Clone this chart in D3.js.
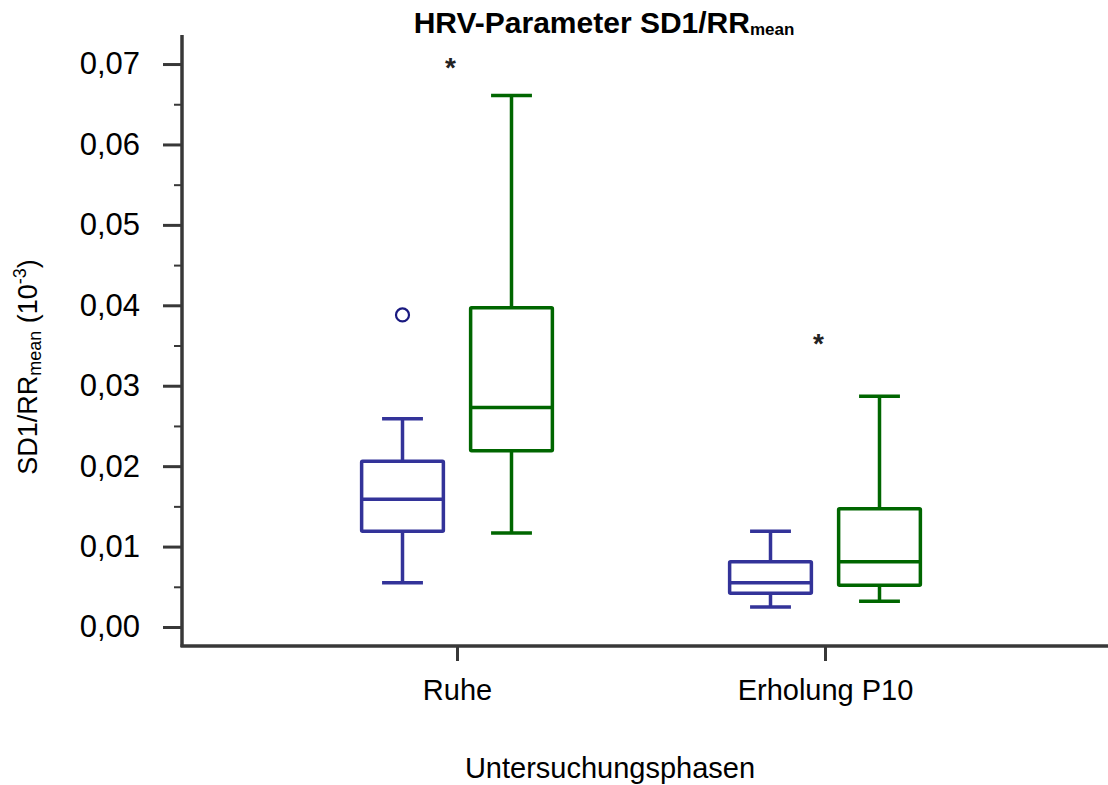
<!DOCTYPE html>
<html>
<head>
<meta charset="utf-8">
<script src="https://cdn.jsdelivr.net/npm/d3@7/dist/d3.min.js"></script>
<style>
  html, body { margin: 0; padding: 0; background: #fff; }
  svg { display: block; font-family: "Liberation Sans", Arial, sans-serif; }
</style>
</head>
<body>
<svg id="chart" width="1108" height="785"></svg>
<script>
// ---- data ----
const categories = ["Ruhe", "Erholung P10"];
const seriesNames = ["Gruppe 1", "Gruppe 2"];
const seriesColors = ["#333399", "#006600"];
// five-number summaries: [lowerWhisker, Q1, median, Q3, upperWhisker]
const group1Stats = [
  [0.0055, 0.0119, 0.0159, 0.0206, 0.0259],
  [0.0025, 0.0042, 0.0055, 0.0081, 0.0119]
];
const group2Stats = [
  [0.0117, 0.0219, 0.0273, 0.0397, 0.0661],
  [0.0032, 0.0052, 0.0081, 0.0147, 0.0287]
];
// outliers (circles) and extremes (asterisks): [categoryIndex, seriesIndex, value]
const outliers = [[0, 0, 0.0388]];
const extremes = [[0, 0, 0.0700], [1, 0, 0.0357]];
const yTicks = [0, 0.01, 0.02, 0.03, 0.04, 0.05, 0.06, 0.07];
const yMinorTicks = [0.005, 0.015, 0.025, 0.035, 0.045, 0.055, 0.065];

const svg = d3.select("#chart");
const axisColor = "#383838";

const y = d3.scaleLinear().domain([-0.002238, 0.07361]).range([645, 35]);
const x = d3.scalePoint().domain(categories).range([457, 825]);
const xs = d3.scaleBand().domain(seriesNames).range([-109, 109]).padding(0);
const boxW = xs.bandwidth() * 0.75;
const capW = boxW * 0.5;

// ---- axes ----
const yAxis = d3.axisLeft(y).tickValues(yTicks).tickSize(19).tickPadding(23)
  .tickFormat(d => d3.format(".2f")(d).replace(".", ","));
const gy = svg.append("g").attr("transform", "translate(182,0)").call(yAxis);
gy.select(".domain").remove();
gy.selectAll(".tick line").attr("stroke", axisColor).attr("stroke-width", 3);
gy.selectAll(".tick text").attr("fill", "#000").style("font-size", "31px")
  .style("font-family", "'Liberation Sans', Arial, sans-serif");

const yMinor = d3.axisLeft(y).tickValues(yMinorTicks).tickSize(8).tickFormat("");
const gym = svg.append("g").attr("transform", "translate(182,0)").call(yMinor);
gym.select(".domain").remove();
gym.selectAll(".tick line").attr("stroke", axisColor).attr("stroke-width", 2);

svg.append("line").attr("x1", 182).attr("x2", 182).attr("y1", y.range()[1]).attr("y2", 647)
  .attr("stroke", axisColor).attr("stroke-width", 3.5);

const xAxis = d3.axisBottom(x).tickSize(15).tickPadding(18);
const gx = svg.append("g").attr("transform", "translate(0,646)").call(xAxis);
gx.select(".domain").remove();
gx.selectAll(".tick line").attr("stroke", axisColor).attr("stroke-width", 3);
gx.selectAll(".tick text").attr("fill", "#000").style("font-size", "29px")
  .style("font-family", "'Liberation Sans', Arial, sans-serif");
svg.append("line").attr("x1", 180.5).attr("x2", 1108).attr("y1", 646).attr("y2", 646)
  .attr("stroke", axisColor).attr("stroke-width", 3.5);

// ---- boxes ----
const allStats = [group1Stats, group2Stats];
allStats.forEach((stats, si) => {
  const col = seriesColors[si];
  stats.forEach((s, ci) => {
    const cx = x(categories[ci]) + xs(seriesNames[si]) + xs.bandwidth() / 2;
    const g = svg.append("g").attr("stroke", col).attr("stroke-width", 3.5).attr("fill", "none");
    // whiskers
    g.append("line").attr("x1", cx).attr("x2", cx).attr("y1", y(s[0])).attr("y2", y(s[1]));
    g.append("line").attr("x1", cx).attr("x2", cx).attr("y1", y(s[3])).attr("y2", y(s[4]));
    g.append("line").attr("x1", cx - capW / 2).attr("x2", cx + capW / 2).attr("y1", y(s[0])).attr("y2", y(s[0]));
    g.append("line").attr("x1", cx - capW / 2).attr("x2", cx + capW / 2).attr("y1", y(s[4])).attr("y2", y(s[4]));
    // box
    g.append("rect").attr("x", cx - boxW / 2).attr("y", y(s[3]))
      .attr("width", boxW).attr("height", y(s[1]) - y(s[3]))
      .attr("stroke-linejoin", "round").attr("rx", 1);
    // median
    g.append("line").attr("x1", cx - boxW / 2).attr("x2", cx + boxW / 2).attr("y1", y(s[2])).attr("y2", y(s[2]));
  });
});

// outliers
outliers.forEach(o => {
  const cx = x(categories[o[0]]) + xs(seriesNames[o[1]]) + xs.bandwidth() / 2;
  svg.append("circle").attr("cx", cx).attr("cy", y(o[2])).attr("r", 6.5)
    .attr("fill", "#fff").attr("stroke", "#1a1a80").attr("stroke-width", 2.2);
});
// extremes
extremes.forEach(o => {
  const cx = x(categories[o[0]]) + xs(seriesNames[o[1]]) + xs.bandwidth() / 2 + 48;
  svg.append("text").attr("x", cx).attr("y", y(o[2]) + 13).attr("text-anchor", "middle")
    .style("font-size", "28px").style("font-weight", "bold").attr("fill", "#222").text("*");
});

// ---- titles ----
const title = svg.append("text").attr("x", 604).attr("y", 33).attr("text-anchor", "middle")
  .style("font-weight", "bold").style("font-size", "30px").attr("fill", "#000");
title.append("tspan").text("HRV-Parameter SD1/RR");
title.append("tspan").attr("dy", 2).style("font-size", "17px").text("mean");

svg.append("text").attr("x", 610).attr("y", 778).attr("text-anchor", "middle")
  .style("font-size", "29px").attr("fill", "#000").text("Untersuchungsphasen");

const yl = svg.append("text").attr("transform", "translate(37,367) rotate(-90)")
  .attr("text-anchor", "middle").style("font-size", "27px").attr("fill", "#000");
yl.append("tspan").text("SD1/RR");
yl.append("tspan").attr("dy", 4).style("font-size", "18px").text("mean");
yl.append("tspan").attr("dy", -4).text(" (10");
yl.append("tspan").attr("dy", -11).style("font-size", "18px").text("-3");
yl.append("tspan").attr("dy", 11).text(")");
</script>
</body>
</html>
